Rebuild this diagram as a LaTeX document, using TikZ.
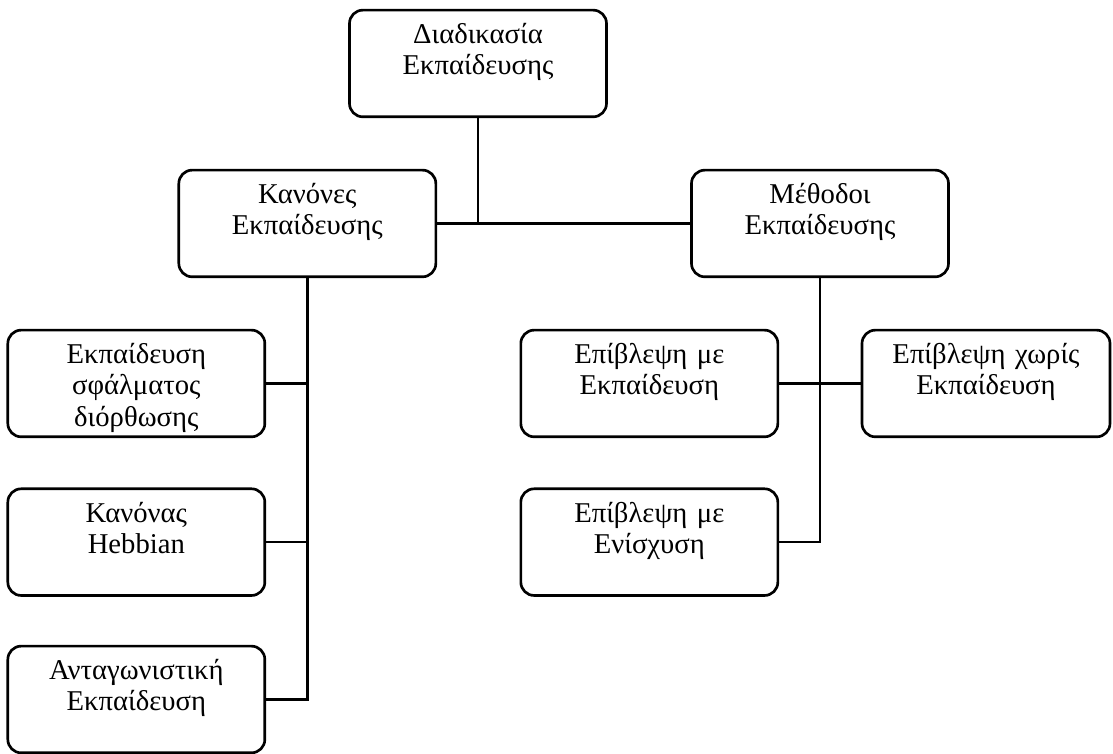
\documentclass[tikz,border=0pt]{standalone}
\usepackage{fontspec}
\setmainfont{Liberation Serif}
\usetikzlibrary{positioning}
\tikzset{blk/.style={draw, rounded corners=10pt, line width=2pt, minimum width=192.75pt, text width=188pt, align=center, inner sep=0pt, text height=25pt, text depth=55pt, font=\fontsize{21.5}{23.5}\selectfont}}
\tikzset{ln/.style={line width=2pt}}

\begin{document}
\begin{tikzpicture}[on grid]
        \useasboundingbox (-358.5pt,47.6pt) rectangle ++(834.75pt,-564.75pt);

        \node[blk] (proc) at (0, 0) {Διαδικασία\\Εκπαίδευσης};
        \node[blk, below left=120pt and 128pt of proc] (rules) {Κανόνες\\Εκπαίδευσης};
        \node[blk, below right=120pt and 256.5pt of proc] (meth) {Μέθοδοι\\Εκπαίδευσης};

        \node[blk, below left=120pt and 128.25pt of rules] (err) {Εκπαίδευση\\σφάλματος\\διόρθωσης};
        \node[blk, below=119pt of err] (hebb) {Κανόνας\\Hebbian};
        \node[blk, below=118pt of hebb] (comp) {Ανταγωνιστική\\Εκπαίδευση};

        \node[blk, below left=120pt and 128pt of meth] (sup) {Επίβλεψη με\\Εκπαίδευση};
        \node[blk, below right=120pt and 124.5pt of meth, minimum width=186pt, text width=182pt] (unsup) {Επίβλεψη χωρίς\\Εκπαίδευση};
        \node[blk, below=119pt of sup] (reinf) {Επίβλεψη με\\Ενίσχυση};

        % top level
        \draw[ln] (proc.south) -- (proc |- rules.east);
        \draw[ln] (rules.east) -- (meth.west);

        % rules branch
        \draw[ln] (rules.south) |- (comp.east);
        \draw[ln] (err.east) -- (err.east -| rules.south);
        \draw[ln] (hebb.east) -- (hebb.east -| rules.south);

        % methods branch
        \draw[ln] (meth.south) |- (reinf.east);
        \draw[ln] (sup.east) -- (unsup.west);
    \end{tikzpicture}
\end{document}
